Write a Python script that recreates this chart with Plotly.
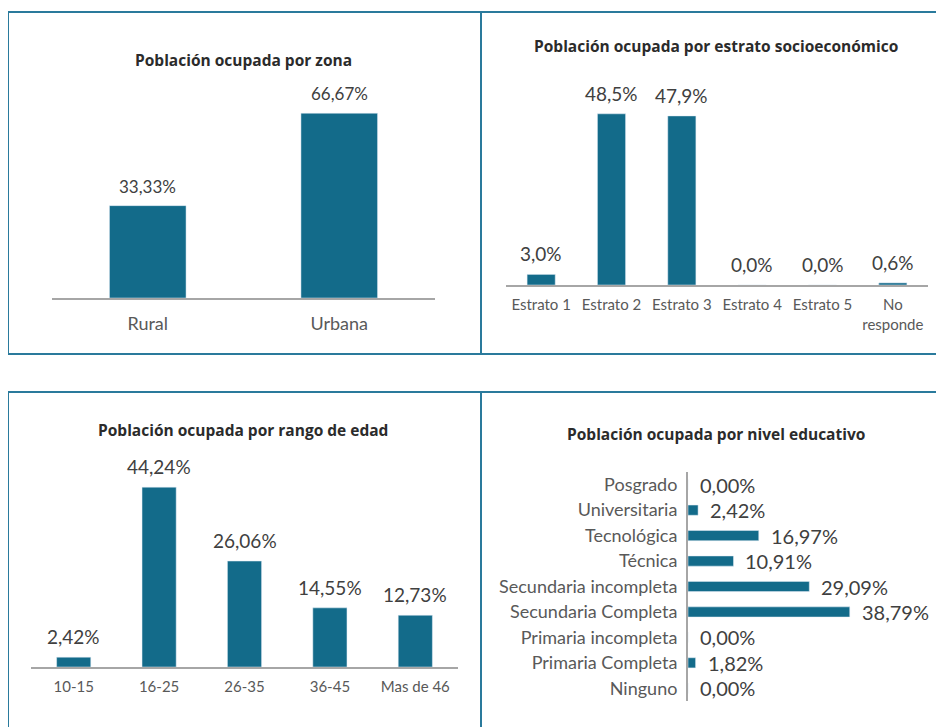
import plotly.graph_objects as go

W, H = 944, 727

# ---------------- data ----------------
zona_cats = ["Rural", "Urbana"]
zona_vals = [33.33, 66.67]
zona_text = ["33,33%", "66,67%"]

estrato_cats = ["Estrato 1", "Estrato 2", "Estrato 3", "Estrato 4", "Estrato 5", "No<br>responde"]
estrato_vals = [3.0, 48.5, 47.9, 0.0, 0.0, 0.6]
estrato_text = ["3,0%", "48,5%", "47,9%", "0,0%", "0,0%", "0,6%"]

edad_cats = ["10-15", "16-25", "26-35", "36-45", "Mas de 46"]
edad_vals = [2.42, 44.24, 26.06, 14.55, 12.73]
edad_text = ["2,42%", "44,24%", "26,06%", "14,55%", "12,73%"]

edu_cats = ["Posgrado", "Universitaria", "Tecnológica", "Técnica", "Secundaria incompleta",
            "Secundaria Completa", "Primaria incompleta", "Primaria Completa", "Ninguno"]
edu_vals = [0.0, 2.42, 16.97, 10.91, 29.09, 38.79, 0.0, 1.82, 0.0]
edu_text = ["0,00%", "2,42%", "16,97%", "10,91%", "29,09%", "38,79%", "0,00%", "1,82%", "0,00%"]

titles = ["Población ocupada por zona",
          "Población ocupada por estrato socioeconómico",
          "Población ocupada por rango de edad",
          "Población ocupada por nivel educativo"]

# ---------------- style ----------------
FONT = "Lato"
TITLE_FONT = "Open Sans"
BAR = "#136b8a"
BORDER = "#2a7a9c"
AXIS = "#a6a6a6"
VAL_C = "#404040"
TICK_C = "#595959"
TITLE_C = "#2b2b2b"

OFF = 8  # page body margin offset


def px_x(p):
    return (p - OFF) / W


def px_y(p):
    return 1 - (p - OFF) / H


fig = go.Figure()

fig.add_trace(go.Bar(x=zona_cats, y=zona_vals, marker_color=BAR, width=0.4,
                     xaxis="x", yaxis="y", hoverinfo="skip"))
fig.add_trace(go.Bar(x=estrato_cats, y=estrato_vals, marker_color=BAR, width=0.4,
                     xaxis="x2", yaxis="y2", hoverinfo="skip"))
fig.add_trace(go.Bar(x=edad_cats, y=edad_vals, marker_color=BAR, width=0.4,
                     xaxis="x3", yaxis="y3", hoverinfo="skip"))
fig.add_trace(go.Bar(y=edu_cats, x=edu_vals, orientation="h", marker_color=BAR, width=0.4,
                     xaxis="x4", yaxis="y4", hoverinfo="skip"))

annotations = []


def add_vlabels(cats, vals, texts, xr, yr, size):
    for c, v, t in zip(cats, vals, texts):
        annotations.append(dict(x=c, y=v, xref=xr, yref=yr, text=t, showarrow=False,
                                yanchor="bottom", yshift=7,
                                font=dict(family=FONT, size=size, color=VAL_C)))


add_vlabels(zona_cats, zona_vals, zona_text, "x", "y", 17)
add_vlabels(estrato_cats, estrato_vals, estrato_text, "x2", "y2", 19)
add_vlabels(edad_cats, edad_vals, edad_text, "x3", "y3", 19)
for c, v, t in zip(edu_cats, edu_vals, edu_text):
    annotations.append(dict(x=v, y=c, xref="x4", yref="y4", text=t, showarrow=False,
                            xanchor="left", xshift=10,
                            font=dict(family=FONT, size=20, color=VAL_C)))

title_pos = [(243, 60), (716, 46), (243, 430), (716, 434)]
for t, (tx, ty) in zip(titles, title_pos):
    annotations.append(dict(x=px_x(tx), y=px_y(ty), xref="paper", yref="paper", text="<b>" + t + "</b>",
                            showarrow=False, xanchor="center", yanchor="middle",
                            font=dict(family=TITLE_FONT, size=15.5, color=TITLE_C)))

# borders
shapes = []
border_lines = [
    (8, 12, 960, 12),      # top
    (8, 12, 8, 354),       # left top box
    (481, 12, 481, 354),   # middle top
    (8, 354, 960, 354),    # bottom of top boxes
    (8, 392, 960, 392),    # top of bottom boxes
    (8, 392, 8, 740),      # left bottom box
    (481, 392, 481, 740),  # middle bottom
]
for x0, y0, x1, y1 in border_lines:
    shapes.append(dict(type="line", xref="paper", yref="paper",
                       x0=px_x(x0), y0=px_y(y0), x1=px_x(x1), y1=px_y(y1),
                       line=dict(color=BORDER, width=2)))


def cat_xaxis(dom_px, anchor, size, standoff):
    return dict(domain=[px_x(dom_px[0]), px_x(dom_px[1])], anchor=anchor,
                showline=True, linecolor=AXIS, linewidth=2, showgrid=False,
                ticks="", tickfont=dict(family=FONT, size=size, color=TICK_C),
                ticklabelstandoff=standoff, fixedrange=True, zeroline=False)


def val_yaxis(dom_px, anchor, rng):
    return dict(domain=[px_y(dom_px[1]), px_y(dom_px[0])], anchor=anchor, range=rng,
                showline=False, showgrid=False, zeroline=False, showticklabels=False,
                ticks="", fixedrange=True)


layout = dict(
    width=W, height=H, margin=dict(l=0, r=0, t=0, b=0),
    paper_bgcolor="white", plot_bgcolor="rgba(0,0,0,0)",
    showlegend=False, bargap=0.6,
    font=dict(family=FONT),
    xaxis=cat_xaxis((52, 435), "y", 18, 8),
    yaxis=val_yaxis((104, 298), "x", [0, 70]),
    xaxis2=cat_xaxis((506, 928), "y2", 15, 5),
    yaxis2=val_yaxis((108.5, 285), "x2", [0, 50]),
    xaxis3=cat_xaxis((31, 458), "y3", 15, 5),
    yaxis3=val_yaxis((480, 667), "x3", [0, 46]),
    xaxis4=dict(domain=[px_x(688), px_x(896.5)], anchor="y4", range=[0, 50],
                showline=False, showgrid=False, zeroline=False, showticklabels=False,
                ticks="", fixedrange=True),
    yaxis4=dict(domain=[px_y(701), px_y(472)], anchor="x4", type="category",
                categoryorder="array", categoryarray=edu_cats, range=[8.5, -0.5],
                showline=True, linecolor=AXIS, linewidth=2, showgrid=False, zeroline=False,
                ticks="", tickfont=dict(family=FONT, size=18, color=TICK_C),
                ticklabelstandoff=5, fixedrange=True),
    annotations=annotations,
    shapes=shapes,
)
fig.update_layout(**layout)
for tr in fig.data:
    tr.cliponaxis = False

fig.write_html("out.html", config={"displayModeBar": False})
